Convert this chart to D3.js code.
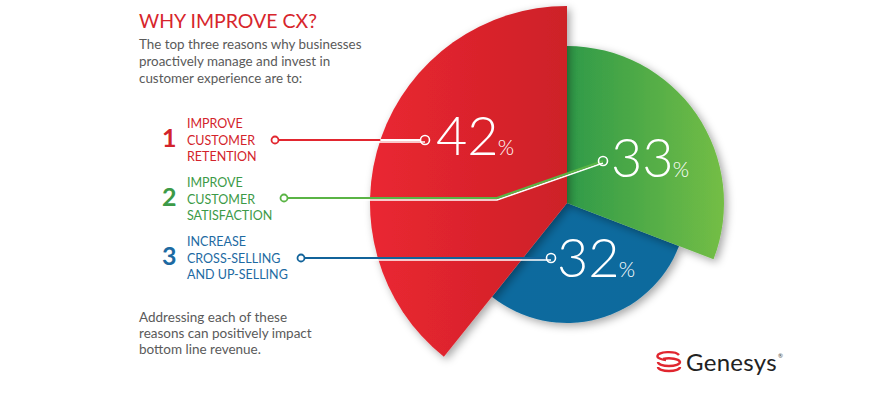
<!DOCTYPE html>
<html>
<head>
<meta charset="utf-8">
<script src="https://cdn.jsdelivr.net/npm/d3@7/dist/d3.min.js"></script>
<style>
  html, body { margin: 0; padding: 0; background: #fff; }
  svg { display: block; font-family: Lato, "Open Sans", sans-serif; }
</style>
</head>
<body>
<svg width="894" height="398"></svg>
<script>
'use strict';

// data
var ranks = [1, 2, 3];
var reasons = [
    ['IMPROVE', 'CUSTOMER', 'RETENTION'],
    ['IMPROVE', 'CUSTOMER', 'SATISFACTION'],
    ['INCREASE', 'CROSS-SELLING', 'AND UP-SELLING']
];
var shares = [42, 33, 32];
var subtitle = ['The top three reasons why businesses',
    'proactively manage and invest in',
    'customer experience are to:'];
var footnote = ['Addressing each of these',
    'reasons can positively impact',
    'bottom line revenue.'];

// layout
var cx = 567, cy = 203;
var radii = [197, 157, 120];
var lineColors = ['#e2262f', '#5ab445', '#11639a'];
var textColors = ['#d3232b', '#3c9a47', '#1d6aa2'];

var svg = d3.select('svg');
var defs = svg.append('defs');

var f = defs.append('filter').attr('id', 'shadow')
    .attr('x', '-20%').attr('y', '-20%').attr('width', '140%').attr('height', '140%');
f.append('feDropShadow')
    .attr('dx', 3).attr('dy', 3).attr('stdDeviation', 4)
    .attr('flood-color', '#000').attr('flood-opacity', 0.35);

var grads = [['#ea2731', '#cd2028'], ['#2f9a48', '#74be45'], ['#0b6a9e', '#0d6b9d']];
grads.forEach(function (g, i) {
    var lg = defs.append('linearGradient').attr('id', 'g' + i)
        .attr('x1', '0').attr('x2', '1').attr('y1', '0').attr('y2', '0');
    lg.append('stop').attr('offset', '0').attr('stop-color', g[0]);
    lg.append('stop').attr('offset', '1').attr('stop-color', g[1]);
});

// 标题
svg.append('text')
    .text('WHY IMPROVE CX?')
    .attr('x', 139).attr('y', 28)
    .attr('font-size', 19.5)
    .attr('fill', '#d7252c');

svg.append('g')
    .selectAll('text')
    .data(subtitle)
    .enter()
    .append('text')
    .text(function (d) { return d; })
    .attr('x', 139)
    .attr('y', function (d, i) { return 49 + i * 17; })
    .attr('font-size', 13.4)
    .attr('fill', '#5a5a5a');

svg.append('g')
    .selectAll('text')
    .data(footnote)
    .enter()
    .append('text')
    .text(function (d) { return d; })
    .attr('x', 139)
    .attr('y', function (d, i) { return 322 + i * 16; })
    .attr('font-size', 13.5)
    .attr('fill', '#5a5a5a');

// 扇形
var sum = d3.sum(shares);
var start = -2 * Math.PI * shares[0] / sum;
var pie = d3.pie().sort(null).value(function (d) { return d; })
    .startAngle(start).endAngle(start + 2 * Math.PI);
var arcs = pie(shares);

var arc = d3.arc().innerRadius(0)
    .outerRadius(function (d) { return radii[d.index]; });

svg.append('g')
    .attr('transform', 'translate(' + cx + ',' + cy + ')')
    .selectAll('path')
    .data(arcs.slice().reverse())
    .enter()
    .append('path')
    .attr('d', arc)
    .attr('fill', function (d) { return 'url(#g' + d.index + ')'; })
    .attr('filter', 'url(#shadow)');

// 左侧编号与说明
var rowY = [147, 206, 265];
var rows = svg.append('g')
    .selectAll('g')
    .data(ranks)
    .enter()
    .append('g');

rows.append('text')
    .text(function (d) { return d; })
    .attr('x', 162)
    .attr('y', function (d, i) { return rowY[i]; })
    .attr('font-size', 25)
    .attr('font-weight', 'bold')
    .attr('fill', function (d, i) { return textColors[i]; });

rows.each(function (d, i) {
    d3.select(this).selectAll('text.l')
        .data(reasons[i])
        .enter()
        .append('text')
        .attr('class', 'l')
        .text(function (t) { return t; })
        .attr('x', 187)
        .attr('y', function (t, j) { return rowY[i] - 19 + j * 16.5; })
        .attr('font-size', 12.5)
        .attr('fill', textColors[i]);
});

// 引线
var leaders = [
    [[275, 140], [425, 140]],
    [[284, 198], [497, 198], [603, 161]],
    [[301, 258], [551, 258]]
];
var line = d3.line();
var lg = svg.append('g');
leaders.forEach(function (pts, i) {
    var under = pts.map(function (p) { return [p[0], p[1] + 2]; });
    lg.append('path').attr('d', line(under)).attr('fill', 'none')
        .attr('stroke', '#fff').attr('stroke-width', 1.6);
    lg.append('path').attr('d', line(pts)).attr('fill', 'none')
        .attr('stroke', lineColors[i]).attr('stroke-width', 2.2);
    lg.append('circle').attr('cx', pts[0][0]).attr('cy', pts[0][1]).attr('r', 3.5)
        .attr('fill', '#fff').attr('stroke', lineColors[i]).attr('stroke-width', 1.8);
    var e = pts[pts.length - 1];
    lg.append('circle').attr('cx', e[0]).attr('cy', e[1]).attr('r', 4.5)
        .attr('fill', 'none').attr('stroke', '#fff').attr('stroke-width', 1.6);
});
// white segment inside red sector
var redLeft = cx - Math.sqrt(radii[0] * radii[0] - (cy - 140) * (cy - 140));
lg.insert('path', 'circle').attr('d', line([[redLeft, 140], [421, 140]]))
    .attr('stroke', '#fff').attr('stroke-width', 2.2);

// 百分比
var pctPos = [[436, 155], [611, 177], [557, 277]];
var pct = svg.append('g')
    .selectAll('text')
    .data(shares)
    .enter()
    .append('text')
    .attr('x', function (d, i) { return pctPos[i][0]; })
    .attr('y', function (d, i) { return pctPos[i][1]; })
    .attr('fill', '#fff')
    .attr('font-weight', 300);
pct.append('tspan').text(function (d) { return d; }).attr('font-size', 54);
pct.append('tspan').text('%').attr('font-size', 21).attr('dx', -1);

// logo
var logo = svg.append('g').attr('transform', 'translate(669,362)')
    .attr('fill', 'none').attr('stroke', '#e0262f').attr('stroke-width', 2.4);
logo.append('path').attr('d', 'M10,-7 A11,4 0 1 0 -3,-2');
logo.append('path').attr('d', 'M-11,0 A11,4 0 1 0 11,0 A11,4 0 0 0 -6,-3');
logo.append('path').attr('d', 'M-11,5 A11,4 0 1 0 11,5');
svg.append('text').text('Genesys')
    .attr('x', 686).attr('y', 371)
    .attr('font-size', 24).attr('letter-spacing', 0.3).attr('fill', '#222');
svg.append('text').text('®')
    .attr('x', 778).attr('y', 358)
    .attr('font-size', 6).attr('fill', '#444');
</script>
</body>
</html>
